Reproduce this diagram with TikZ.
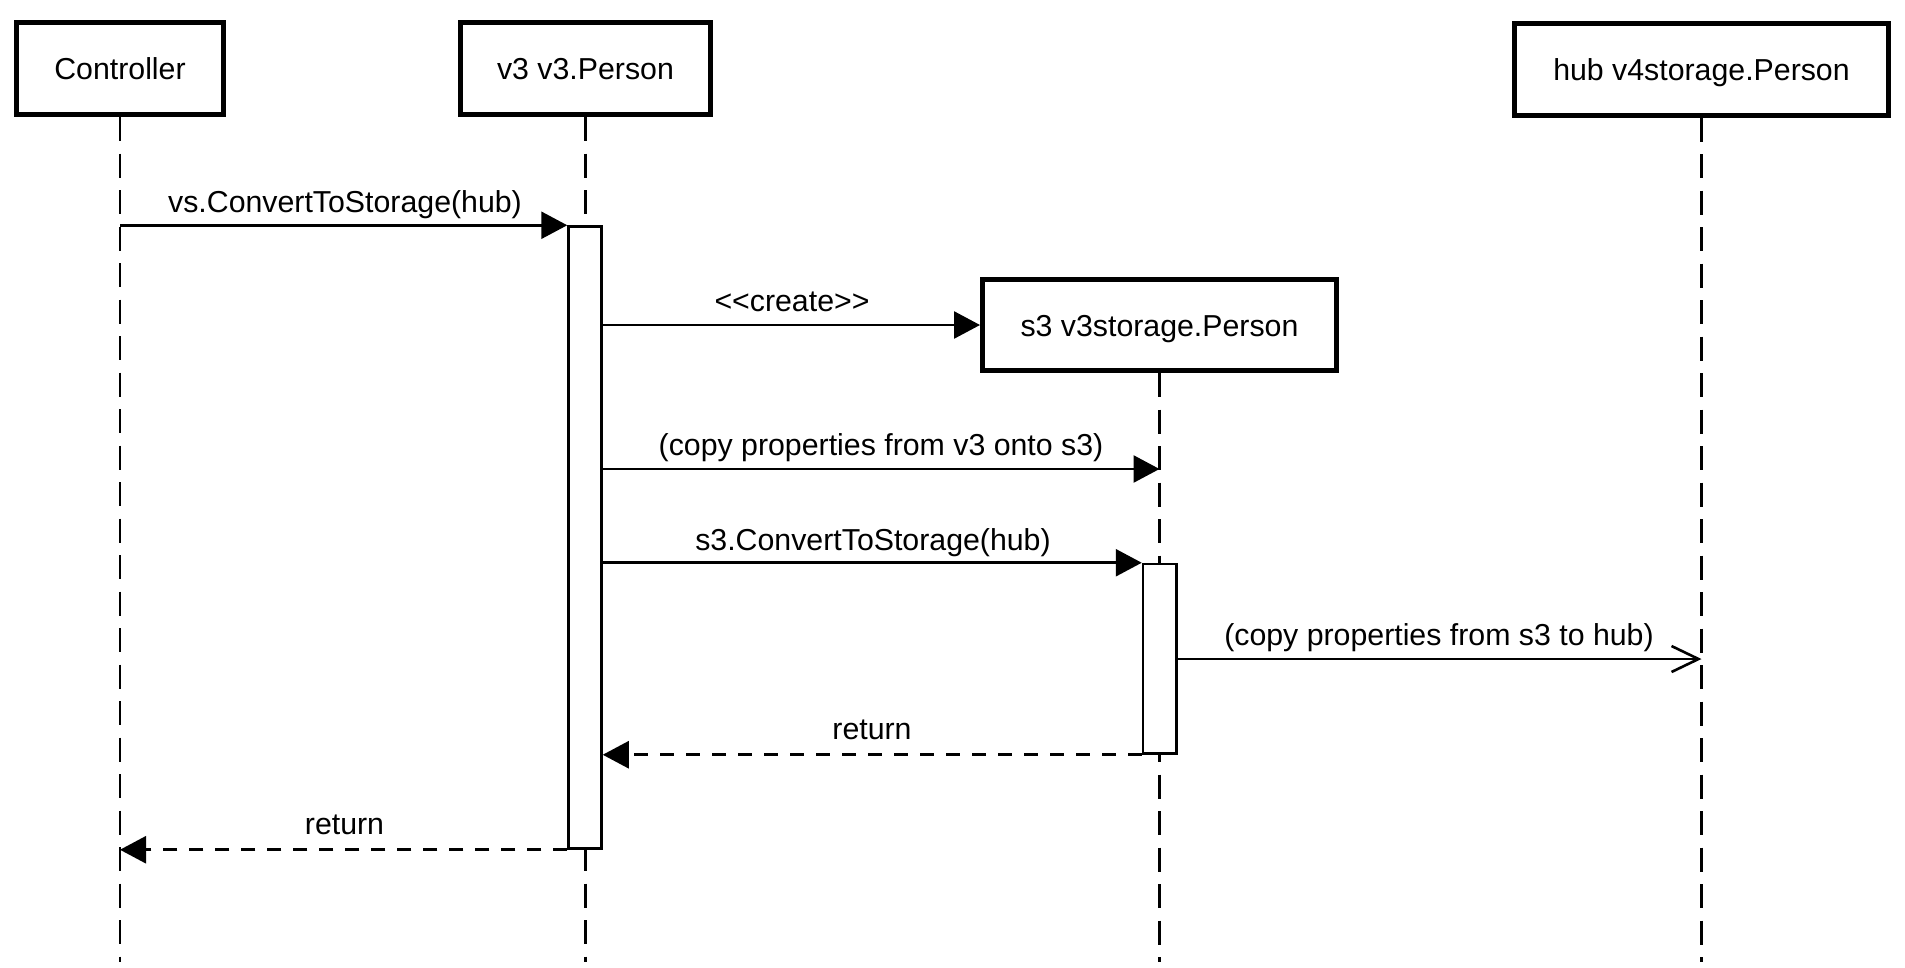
\documentclass[tikz,border=0pt]{standalone}
\usepackage{fontspec}
\setmainfont{Liberation Sans}[Ligatures=TeXOff]
\usetikzlibrary{arrows.meta}
\begin{document}
\begin{tikzpicture}[x=1pt,y=-1pt,
  every node/.style={font=\fontsize{30.3}{36}\selectfont},
  actor/.style={draw, line width=5pt, fill=white, inner sep=0pt, minimum height=92pt, text height=22pt, text depth=0pt},
  life/.style={line width=2.3pt, dash pattern=on 24pt off 12.5pt},
  actbar/.style={draw, line width=2.5pt, fill=white, inner sep=0pt, minimum width=33pt},
  msg/.style={line width=2.6pt, -{Triangle[length=26pt,width=27pt]}},
  ret/.style={msg, dash pattern=on 14pt off 12pt},
  openmsg/.style={line width=2.6pt, -{Straight Barb[length=27pt,width=26pt,line width=2.6pt]}},
  lbl/.style={anchor=base, inner sep=0pt}]
\useasboundingbox (0,0) rectangle (1905,967);
\coordinate (bottom) at (0,962);
\coordinate (y3) at (0,469);
\coordinate (y5) at (0,659);
\path (120,68.5) coordinate (pc) (585.5,68.5) coordinate (pv) (1701.5,69) coordinate (ph) (1159.5,325) coordinate (ps);
% actor boxes
\node[actor, minimum width=207pt] (ctrl) at (pc) {Controller};
\node[actor, minimum width=250pt] (v3) at (pv) {v3 v3.Person};
\node[actor, minimum width=374pt] (hub) at (ph) {hub v4storage.Person};
\node[actor, minimum width=354pt, minimum height=91pt] (s3) at (ps) {s3 v3storage.Person};
% lifelines
\draw[life] (ctrl.south) -- (ctrl.south |- bottom);
\draw[life] (v3.south) -- (v3.south |- bottom);
\draw[life] (s3.south) -- (s3.south |- bottom);
\draw[life] (hub.south) -- (hub.south |- bottom);
% redraw boxes over lifeline starts
\node[actor, minimum width=207pt] at (pc) {Controller};
\node[actor, minimum width=250pt] at (pv) {v3 v3.Person};
\node[actor, minimum width=374pt] at (ph) {hub v4storage.Person};
% activations
\node[actbar, minimum height=622pt] (a1) at (585,537.5) {};
\node[actbar, minimum width=33.5pt, minimum height=189.5pt] (a2) at (1159.75,658.75) {};
% messages
\draw[msg] (ctrl.south |- a1.north west) -- (a1.north west);
\draw[msg] (a1.east |- s3.west) -- (s3.west);
\node[actor, minimum width=354pt, minimum height=91pt] at (ps) {s3 v3storage.Person};
\draw[msg] (a1.east |- y3) -- (s3.south |- y3);
\draw[msg] (a1.east |- a2.north west) -- (a2.north west);
\draw[openmsg] (a2.east |- y5) -- (hub.south |- y5);
\draw[ret] (a2.south west) -- (a1.east |- a2.south west);
\draw[ret] (a1.south west) -- (ctrl.south |- a1.south west);
% labels
\node[lbl] (t1) at (345,212.5) {vs.ConvertToStorage(hub)};
\node[lbl] (t2) at (792,311.5) {<<create>>};
\node[lbl] (t3) at (881,455) {(copy properties from v3 onto s3)};
\node[lbl] (t4) at (873,550) {s3.ConvertToStorage(hub)};
\node[lbl] (t5) at (1439,645) {(copy properties from s3 to hub)};
\node[lbl] (t6) at (872,739.5) {return};
\node[lbl] (t7) at (344.5,834.5) {return};
\end{tikzpicture}
\end{document}
